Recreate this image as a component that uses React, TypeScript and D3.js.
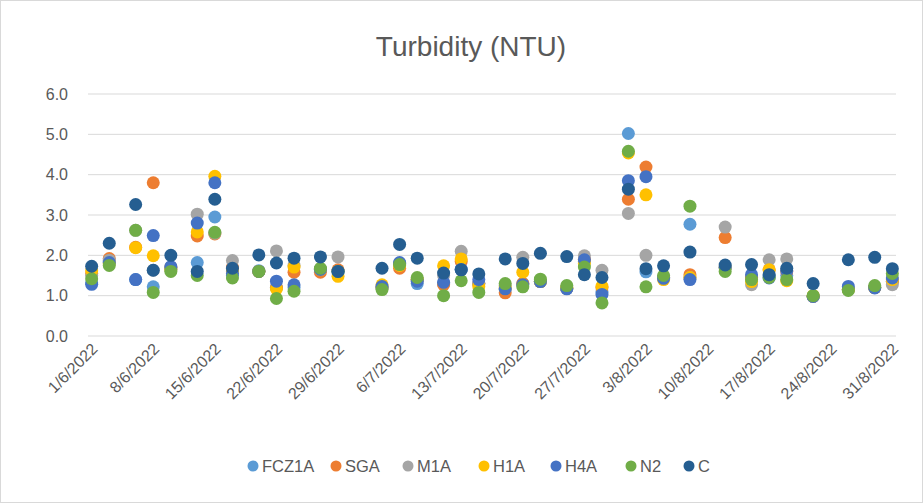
import React from 'react'
import * as d3 from 'd3'

const W = 923
const H = 503
const margin = { top: 94, right: 27, bottom: 167, left: 88 }

// sample dates (day/month, 2022)
const sampleDates: string[] = [
  '1/6', '3/6', '6/6', '8/6', '10/6', '13/6', '15/6', '17/6', '20/6', '22/6', '24/6', '27/6', '29/6',
  '4/7', '6/7', '8/7', '11/7', '13/7', '15/7', '18/7', '20/7', '22/7', '25/7', '27/7', '29/7',
  '1/8', '3/8', '5/8', '8/8', '12/8', '15/8', '17/8', '19/8', '22/8', '26/8', '29/8', '31/8',
]

const tickDates: string[] = [
  '1/6/2022', '8/6/2022', '15/6/2022', '22/6/2022', '29/6/2022', '6/7/2022', '13/7/2022',
  '20/7/2022', '27/7/2022', '3/8/2022', '10/8/2022', '17/8/2022', '24/8/2022', '31/8/2022',
]

const yTicks: number[] = [0, 1, 2, 3, 4, 5, 6]

const fcz1a = [1.32, 1.85, 1.40, 1.22, 1.65, 1.82, 2.95, 1.50, 1.62, 1.20, 1.20, 1.65, 1.60, 1.20, 1.80, 1.30, 1.30, 1.65, 1.30, 1.15, 1.30, 1.35, 1.18, 1.85, 1.10, 5.02, 1.59, 1.45, 2.77, 1.70, 1.45, 1.50, 1.50, 0.98, 1.15, 1.20, 1.35]
const sga = [1.55, 1.92, 2.20, 3.80, 1.70, 2.48, 2.53, 1.70, 1.60, 1.20, 1.58, 1.58, 1.64, 1.20, 1.68, 1.40, 1.27, 1.85, 1.30, 1.07, 1.30, 1.35, 1.18, 1.90, 1.20, 3.39, 4.19, 1.45, 1.52, 2.44, 1.45, 1.64, 1.60, 0.98, 1.15, 1.20, 1.35]
const m1a = [1.50, 1.88, 2.62, 1.63, 1.70, 3.02, 2.55, 1.87, 1.60, 2.11, 1.75, 1.65, 1.96, 1.20, 1.80, 1.40, 1.50, 2.10, 1.30, 1.25, 1.95, 1.35, 1.18, 1.99, 1.63, 3.04, 2.00, 1.45, 1.45, 2.70, 1.27, 1.89, 1.91, 0.98, 1.15, 1.20, 1.27]
const h1a = [1.62, 1.80, 2.19, 1.99, 1.65, 2.58, 3.96, 1.60, 1.60, 1.17, 1.71, 1.65, 1.48, 1.27, 1.75, 1.40, 1.74, 1.91, 1.23, 1.19, 1.58, 1.35, 1.20, 1.80, 1.23, 4.54, 3.50, 1.40, 1.45, 1.70, 1.35, 1.64, 1.37, 1.00, 1.15, 1.20, 1.40]
const h4a = [1.28, 1.82, 1.40, 2.49, 1.72, 2.80, 3.80, 1.55, 1.60, 1.36, 1.27, 1.65, 1.60, 1.23, 1.82, 1.36, 1.33, 1.65, 1.40, 1.17, 1.27, 1.35, 1.17, 1.89, 1.03, 3.85, 3.95, 1.43, 1.40, 1.70, 1.52, 1.44, 1.62, 0.98, 1.23, 1.19, 1.44]
const n2 = [1.42, 1.75, 2.62, 1.08, 1.60, 1.50, 2.57, 1.44, 1.60, 0.93, 1.11, 1.68, 1.60, 1.15, 1.77, 1.45, 1.00, 1.37, 1.08, 1.30, 1.22, 1.41, 1.25, 1.71, 0.82, 4.58, 1.22, 1.50, 3.22, 1.60, 1.40, 1.45, 1.40, 1.00, 1.13, 1.25, 1.55]
const cSite = [1.73, 2.30, 3.26, 1.63, 2.00, 1.60, 3.39, 1.68, 2.01, 1.81, 1.93, 1.96, 1.60, 1.68, 2.27, 1.93, 1.56, 1.64, 1.54, 1.91, 1.80, 2.05, 1.97, 1.52, 1.45, 3.64, 1.67, 1.74, 2.08, 1.76, 1.77, 1.52, 1.68, 1.30, 1.89, 1.95, 1.67]

const seriesNames = ['FCZ1A', 'SGA', 'M1A', 'H1A', 'H4A', 'N2', 'C']
const seriesColors = ['#5B9BD5', '#ED7D31', '#A5A5A5', '#FFC000', '#4472C4', '#70AD47', '#255E91']
const seriesValues = [fcz1a, sga, m1a, h1a, h4a, n2, cSite]

const parseDate = (s: string) => {
  const [d, m] = s.split('/').map(Number)
  return new Date(2022, m - 1, d)
}

const legendX = [253, 336, 408, 484, 556, 631, 689]

export default function App() {
  const innerW = W - margin.left - margin.right
  const innerH = H - margin.top - margin.bottom

  const x = d3.scaleTime()
    .domain([d3.timeHour.offset(new Date(2022, 5, 1), -10), d3.timeHour.offset(new Date(2022, 7, 31), 10)])
    .range([0, innerW])
  const y = d3.scaleLinear().domain([0, 6]).range([innerH, 0])

  const font = "'Liberation Sans', Arial, sans-serif"
  const textColor = '#595959'

  return (
    <svg width={W} height={H} style={{ position: 'absolute', left: 0, top: 0, background: '#fff' }} fontFamily={font}>
      <rect x={0.5} y={0.5} width={W - 1} height={H - 1} fill="#fff" stroke="#d9d9d9" />
      <text x={471} y={56} textAnchor="middle" fontSize={28} fill={textColor}>Turbidity (NTU)</text>
      <g transform={`translate(${margin.left},${margin.top})`}>
        {yTicks.map(t => (
          <g key={t}>
            <line x1={0} x2={innerW} y1={y(t)} y2={y(t)} stroke="#d9d9d9" strokeWidth={1} />
            <text x={-20} y={y(t)} dy="0.35em" textAnchor="end" fontSize={16} fill={textColor}>{t.toFixed(1)}</text>
          </g>
        ))}
        {tickDates.map(t => {
          const px = x(parseDate(t))
          return (
            <text key={t} transform={`translate(${px + 3},${innerH + 10}) rotate(-45)`} textAnchor="end" dy="0.35em" fontSize={16} fill={textColor}>{t}</text>
          )
        })}
        {seriesValues.map((vals, si) => (
          <g key={seriesNames[si]}>
            {vals.map((v, i) => (
              <circle key={i} cx={x(parseDate(sampleDates[i]))} cy={y(v)} r={6.5} fill={seriesColors[si]} />
            ))}
          </g>
        ))}
      </g>
      <g>
        {seriesNames.map((n, i) => (
          <g key={n} transform={`translate(${legendX[i]},466)`}>
            <circle r={5.5} fill={seriesColors[i]} />
            <text x={9} dy="0.35em" fontSize={16.5} fill={textColor}>{n}</text>
          </g>
        ))}
      </g>
    </svg>
  )
}
